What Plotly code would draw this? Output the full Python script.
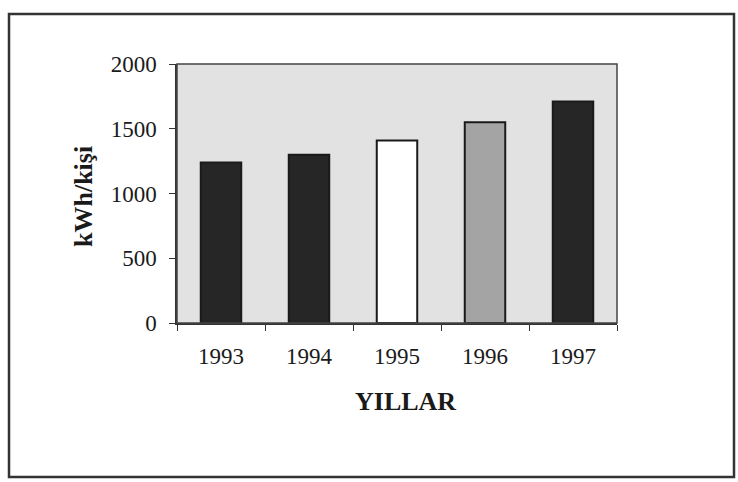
import plotly.graph_objects as go

years = ["1993", "1994", "1995", "1996", "1997"]
values = [1240, 1300, 1410, 1550, 1710]
bar_colors = ["#262626", "#262626", "#ffffff", "#a4a4a4", "#262626"]
y_ticks = [0, 500, 1000, 1500, 2000]

W, H = 738, 482
L, R, T, B = 177, 121, 64, 159

fig = go.Figure()
fig.add_trace(go.Bar(
    x=years, y=values,
    marker=dict(color=bar_colors, line=dict(color="#1a1a1a", width=2)),
    width=0.46,
))

def px(xp):
    return (xp - L) / (W - L - R)

def py(yp):
    return (H - B - yp) / (H - T - B)

fig.update_layout(
    width=W, height=H,
    margin=dict(l=L, r=R, t=T, b=B),
    paper_bgcolor="#ffffff",
    plot_bgcolor="#e2e2e2",
    showlegend=False,
    font=dict(family="Liberation Serif", color="#1a1a1a"),
    xaxis=dict(
        showline=True, linecolor="#333333", linewidth=1.5,
        ticks="outside", ticklen=6, tickcolor="#333333",
        tickson="boundaries", ticklabelstandoff=12,
        tickfont=dict(size=23), mirror=False,
    ),
    yaxis=dict(
        range=[0, 2000], tickvals=y_ticks,
        showgrid=False, zeroline=False,
        showline=True, linecolor="#333333", linewidth=1.5,
        ticks="outside", ticklen=6, tickcolor="#333333",
        ticklabelstandoff=8,
        tickfont=dict(size=23, family="Liberation Serif"),
    ),
    shapes=[
        dict(type="rect", xref="paper", yref="paper",
             x0=px(9), x1=px(734), y0=py(477), y1=py(14),
             line=dict(color="#333333", width=2.5), fillcolor="rgba(0,0,0,0)", layer="below"),
        dict(type="rect", xref="paper", yref="paper",
             x0=0, x1=1, y0=0, y1=1,
             line=dict(color="#444444", width=1.5), fillcolor="rgba(0,0,0,0)"),
    ],
    annotations=[
        dict(text="<b>YILLAR</b>", xref="paper", yref="paper",
             x=px(405), y=py(401), xanchor="center", yanchor="middle",
             showarrow=False, font=dict(size=26, family="Liberation Serif")),
        dict(text="<b>kWh/kişi</b>", xref="paper", yref="paper",
             x=px(83), y=py(197), xanchor="center", yanchor="middle",
             showarrow=False, textangle=-90,
             font=dict(size=26, family="Liberation Serif")),
    ],
)

fig.write_html("out.html", config={"displayModeBar": False},
               post_script="document.body.style.margin='0px';")
